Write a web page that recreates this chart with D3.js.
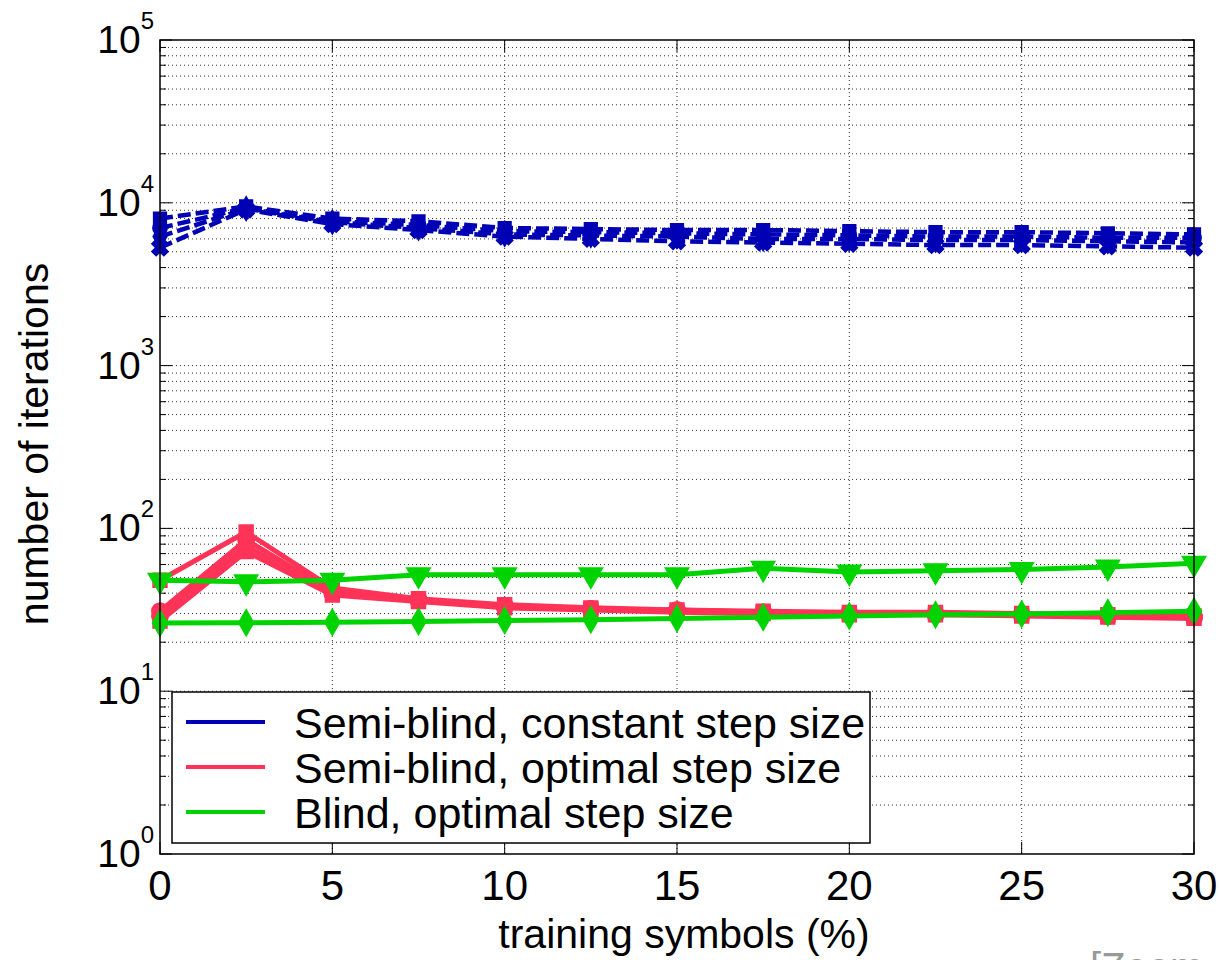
<!DOCTYPE html>
<html>
  <head>
    <script type="text/javascript" src="https://cdn.jsdelivr.net/npm/d3@7"></script>
    <style>
      body { margin: 0; background: #fff; }
      text { font-family: "Liberation Sans", Arial, sans-serif; fill: #000; }
    </style>
  </head>
  <body>
    <script type="text/javascript">
      // training symbols (%)
      const xs = [0, 2.5, 5, 7.5, 10, 12.5, 15, 17.5, 20, 22.5, 25, 27.5, 30];

      // Semi-blind, constant step size (4 runs)
      const blue1 = [8000, 9500, 8000, 7700, 7000, 6900, 6800, 6800, 6700, 6600, 6600, 6500, 6400];
      const blue2 = [7000, 9300, 7700, 7300, 6700, 6600, 6500, 6400, 6300, 6200, 6200, 6100, 6100];
      const blue3 = [6200, 9200, 7600, 7000, 6400, 6300, 6200, 6000, 6000, 5900, 5900, 5800, 5700];
      const blue4 = [5300, 9100, 7400, 6800, 6200, 6000, 5800, 5700, 5600, 5500, 5500, 5400, 5300];

      // Semi-blind, optimal step size (4 runs)
      const red1 = [48, 95, 43, 37, 34, 32.5, 31.5, 31, 30.5, 30.5, 30, 29.5, 29];
      const red2 = [31, 85, 41, 36.5, 33.5, 32, 31.5, 30.5, 30, 30, 29.5, 29, 28.5];
      const red3 = [29, 78, 40, 36, 33, 32, 31, 30.5, 30, 29.5, 29.5, 29, 28.5];
      const red4 = [27, 72, 39, 35.5, 32.5, 31.5, 30.5, 30, 29.5, 29.5, 29, 28.5, 28];

      // Blind, optimal step size (2 runs)
      const green1 = [48, 47, 48, 52, 52, 52, 52, 57, 54, 55, 56, 58, 61];
      const green2 = [26.2, 26.3, 26.5, 26.8, 27.2, 27.5, 28, 28.5, 29, 29.5, 29.8, 30.3, 31];

      const xTicks = [0, 5, 10, 15, 20, 25, 30];
      const yDecades = [0, 1, 2, 3, 4, 5];
      const legendLabels = [
        "Semi-blind, constant step size",
        "Semi-blind, optimal step size",
        "Blind, optimal step size",
      ];

      const BLUE = "#0000b4";
      const RED = "#ff3358";
      const GREEN = "#00d400";

      const W = 1219, H = 960;
      const pLeft = 160, pRight = 1194, pTop = 40, pBottom = 854;

      const svg = d3.select("body").append("svg")
        .attr("width", W).attr("height", H);

      const x = d3.scaleLinear().domain([0, 30]).range([pLeft, pRight]);
      const y = d3.scaleLog().domain([1, 1e5]).range([pBottom, pTop]);

      // grid values (major + minor log ticks)
      const yGrid = [];
      for (let e = 0; e < 5; e++) {
        for (let m = 1; m < 10; m++) yGrid.push(m * Math.pow(10, e));
      }
      yGrid.push(1e5);

      const grid = svg.append("g");
      grid.selectAll(".gy").data(yGrid.filter(v => v > 1 && v < 1e5)).enter()
        .append("line")
        .attr("x1", pLeft).attr("x2", pRight)
        .attr("y1", d => y(d)).attr("y2", d => y(d))
        .attr("stroke", "#333").attr("stroke-width", 1)
        .attr("stroke-dasharray", "1,3");
      grid.selectAll(".gx").data(xTicks.filter(v => v > 0 && v < 30)).enter()
        .append("line")
        .attr("x1", d => x(d)).attr("x2", d => x(d))
        .attr("y1", pTop).attr("y2", pBottom)
        .attr("stroke", "#333").attr("stroke-width", 1)
        .attr("stroke-dasharray", "1,3");

      // tick marks inside box
      const ticks = svg.append("g").attr("stroke", "#000").attr("stroke-width", 1);
      yGrid.forEach(v => {
        const major = Math.abs(Math.log10(v) - Math.round(Math.log10(v))) < 1e-9;
        const len = major ? 12 : 6;
        ticks.append("line").attr("x1", pLeft).attr("x2", pLeft + len)
          .attr("y1", y(v)).attr("y2", y(v));
        ticks.append("line").attr("x1", pRight - len).attr("x2", pRight)
          .attr("y1", y(v)).attr("y2", y(v));
      });
      xTicks.forEach(v => {
        ticks.append("line").attr("x1", x(v)).attr("x2", x(v))
          .attr("y1", pBottom).attr("y2", pBottom - 12);
        ticks.append("line").attr("x1", x(v)).attr("x2", x(v))
          .attr("y1", pTop).attr("y2", pTop + 12);
      });

      const line = d3.line().x(d => x(d[0])).y(d => y(d[1]));
      const pairs = arr => xs.map((v, i) => [v, arr[i]]);

      function drawSeries(values, color, width, dash, symbol, size, rotate) {
        const g = svg.append("g");
        g.append("path").datum(pairs(values))
          .attr("d", line)
          .attr("fill", "none")
          .attr("stroke", color)
          .attr("stroke-width", width)
          .attr("stroke-dasharray", dash)
          .attr("stroke-linejoin", "round");
        g.selectAll("path.m").data(pairs(values)).enter()
          .append("path").attr("class", "m")
          .attr("d", d3.symbol().type(symbol).size(size))
          .attr("transform", d => "translate(" + x(d[0]) + "," + y(d[1]) + ") rotate(" + rotate + ")")
          .attr("fill", color)
          .attr("stroke", color)
          .attr("stroke-width", 2);
      }

      // blue dashed
      drawSeries(blue1, BLUE, 4.5, "13,5", d3.symbolSquare, 150, 0);
      drawSeries(blue2, BLUE, 4.5, "13,5", d3.symbolCircle, 150, 0);
      drawSeries(blue3, BLUE, 4.5, "13,5", d3.symbolDiamond, 150, 0);
      drawSeries(blue4, BLUE, 4.5, "13,5", d3.symbolCross, 150, 45);

      // red solid
      drawSeries(red1, RED, 5, null, d3.symbolSquare, 180, 0);
      drawSeries(red2, RED, 5, null, d3.symbolCircle, 200, 0);
      drawSeries(red3, RED, 5, null, d3.symbolCircle, 200, 0);
      drawSeries(red4, RED, 5, null, d3.symbolSquare, 180, 0);

      // green solid
      drawSeries(green1, GREEN, 5, null, d3.symbolTriangle, 220, 180);
      drawSeries(green2, GREEN, 5, null, d3.symbolDiamond, 180, 0);

      // plot box
      svg.append("rect")
        .attr("x", pLeft).attr("y", pTop)
        .attr("width", pRight - pLeft).attr("height", pBottom - pTop)
        .attr("fill", "none").attr("stroke", "#000").attr("stroke-width", 1.5);

      // x tick labels
      svg.append("g").selectAll("text").data(xTicks).enter()
        .append("text")
        .attr("x", d => x(d)).attr("y", pBottom + 46)
        .attr("text-anchor", "middle")
        .attr("font-size", 42)
        .text(d => d);

      // y tick labels with superscript exponents
      const yl = svg.append("g").selectAll("text").data(yDecades).enter()
        .append("text")
        .attr("x", 154).attr("y", d => y(Math.pow(10, d)) + 13)
        .attr("text-anchor", "end")
        .attr("font-size", 39);
      yl.append("tspan").text("10");
      yl.append("tspan").attr("dy", -24).attr("font-size", 24).text(d => d);

      // axis titles
      svg.append("text")
        .attr("x", 684).attr("y", 948)
        .attr("text-anchor", "middle")
        .attr("font-size", 41)
        .text("training symbols (%)");
      svg.append("text")
        .attr("transform", "translate(48,444) rotate(-90)")
        .attr("text-anchor", "middle")
        .attr("font-size", 41)
        .text("number of iterations");

      // legend
      const lg = svg.append("g");
      lg.append("rect")
        .attr("x", 172).attr("y", 692)
        .attr("width", 698).attr("height", 151)
        .attr("fill", "#fff").attr("stroke", "#000").attr("stroke-width", 1.5);
      const legColors = [BLUE, RED, GREEN];
      legendLabels.forEach((lab, i) => {
        const cy = 722 + i * 45;
        lg.append("line")
          .attr("x1", 186).attr("x2", 265)
          .attr("y1", cy).attr("y2", cy)
          .attr("stroke", legColors[i]).attr("stroke-width", 4);
        lg.append("text")
          .attr("x", 294).attr("y", cy + 16)
          .attr("font-size", 43)
          .text(lab);
      });

      // clipped grey caption in the corner
      svg.append("text")
        .attr("x", 1090).attr("y", 981)
        .attr("font-size", 40)
        .style("fill", "#999")
        .text("[Zoom");
    </script>
  </body>
</html>
